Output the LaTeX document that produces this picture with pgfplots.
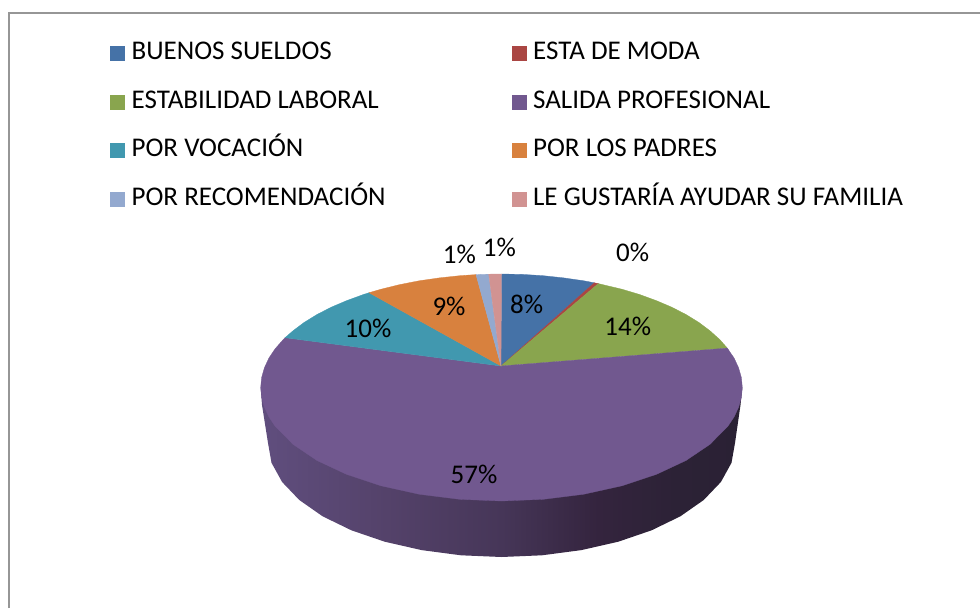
\documentclass[border=0pt]{standalone}
\usepackage{pgfplots}
\pgfplotsset{compat=1.18}
\usepackage{fontspec}
\setmainfont{Carlito}
\definecolor{cblue}{RGB}{69,114,167}
\definecolor{cred}{RGB}{170,70,67}
\definecolor{cgreen}{RGB}{137,165,78}
\definecolor{cpurple}{RGB}{113,88,143}
\definecolor{cteal}{RGB}{65,152,175}
\definecolor{corange}{RGB}{216,129,62}
\definecolor{clight}{RGB}{147,169,207}
\definecolor{cpink}{RGB}{209,147,146}
\definecolor{cframe}{RGB}{150,150,150}
\definecolor{sa}{RGB}{96,78,126}
\definecolor{sb}{RGB}{84,66,106}
\definecolor{sc}{RGB}{70,54,88}
\definecolor{sd}{RGB}{52,36,62}
\definecolor{se}{RGB}{44,34,54}
\definecolor{sf}{RGB}{42,33,52}
\pgfdeclarehorizontalshading{sidepurple}{100bp}{
 color(0bp)=(sa);
 color(25bp)=(sa);
 color(38bp)=(sb);
 color(50bp)=(sc);
 color(60bp)=(sd);
 color(68bp)=(se);
 color(75bp)=(sf);
 color(100bp)=(sf)}
\newlength{\colw}\setlength{\colw}{380pt}
\begin{document}
\begin{tikzpicture}
\path[use as bounding box] (0,0) rectangle (980pt,608pt);
\begin{axis}[
  width=980pt,height=608pt,scale only axis,
  xmin=0,xmax=980,ymin=0,ymax=608,y dir=reverse,
  hide axis,
  legend columns=2,
  legend cell align=left,
  legend image code/.code={\path[#1,draw=none] (0pt,-7.5pt) rectangle (15pt,7.5pt);},
  legend style={draw=none,fill=none,inner sep=0pt,at={(0.1122,0.930)},anchor=north west,
    font=\fontsize{27}{27}\selectfont,row sep=26.6pt,
    nodes={inner sep=0pt,outer sep=0pt,text height=17pt,text depth=5pt},
    /tikz/every odd column/.append style={column sep=6.5pt}},
]
% frame
\addplot[forget plot,draw=cframe,line width=2pt] coordinates {(8.5,608) (8.5,12.5) (980,12.5)};
% side wall of the pie
\addplot[forget plot,draw=none,shading=sidepurple] coordinates {
 (260.7,387.5) (262,405) (268,443) (271.5,462.8) (282.1,482) (299.3,500) (322.6,516.3) (351.4,530.3)
 (384.7,541.7) (421.6,550.1) (461,555.3) (501.5,557) (542,555.3) (581.4,550.1) (618.3,541.7)
 (651.6,530.3) (680.4,516.3) (703.7,500) (720.9,482) (731.5,462.8) (735,443) (740.5,405) (742.3,387.5)} -- cycle;
% slices
\addplot[fill=cblue,draw=cblue,line width=0.3pt] coordinates {
 (501,366) (501.5,274) (522.5,274.4) (543.3,275.7) (563.8,277.9) (583.9,280.8) (594.3,282.8)} -- cycle;
\addlegendentry{\makebox[\colw][l]{BUENOS SUELDOS}}
\addplot[fill=cred,draw=cred,line width=0.3pt] coordinates {
 (501,366) (594.3,282.8) (598.3,283.6)} -- cycle;
\addlegendentry{ESTA DE MODA}
\addplot[fill=cgreen,draw=cgreen,line width=0.3pt] coordinates {
 (501,366) (598.3,283.6) (621.9,289.2) (639.6,294.5) (656.3,300.6) (671.8,307.2) (686,314.5)
 (698.8,322.4) (710,330.8) (719.7,339.5) (727.3,348.1)} -- cycle;
\addlegendentry{\makebox[\colw][l]{ESTABILIDAD LABORAL}}
\addplot[fill=cpurple,draw=cpurple,line width=0.3pt] coordinates {
 (501,366) (727.3,348.1) (734.1,358.1) (738.6,367.8) (741.4,377.6) (742.3,387.5) (741.4,397.4)
 (738.6,407.2) (734.1,416.9) (727.8,426.3) (710,444.3) (686,460.5) (656.3,474.4) (621.9,485.8)
 (583.9,494.2) (543.3,499.3) (501.5,501) (459.7,499.3) (419.1,494.2) (381.1,485.8) (346.7,474.4)
 (317,460.5) (293,444.3) (275.2,426.3) (268.9,416.9) (264.4,407.2) (261.6,397.4) (260.7,387.5)
 (261.6,377.6) (264.4,367.8) (268.9,358.1) (275.2,348.7) (283.3,339.5) (285,337.7)} -- cycle;
\addlegendentry{SALIDA PROFESIONAL}
\addplot[fill=cteal,draw=cteal,line width=0.3pt] coordinates {
 (501,366) (285,337.7) (293,330.8) (304.2,322.4) (317,314.5) (331.2,307.2) (346.7,300.6) (363.4,294.5) (369,292.7)} -- cycle;
\addlegendentry{\makebox[\colw][l]{POR VOCACIÓN}}
\addplot[fill=corange,draw=corange,line width=0.3pt] coordinates {
 (501,366) (369,292.7) (381.1,289.2) (399.7,284.6) (419.1,280.8) (439.2,277.9) (459.7,275.7) (476,274.6)} -- cycle;
\addlegendentry{POR LOS PADRES}
\addplot[fill=clight,draw=clight,line width=0.3pt] coordinates {
 (501,366) (476,274.6) (482,274.3) (488.7,274.2)} -- cycle;
\addlegendentry{\makebox[\colw][l]{POR RECOMENDACIÓN}}
\addplot[fill=cpink,draw=cpink,line width=0.3pt] coordinates {
 (501,366) (488.7,274.2) (495,274) (501.5,274)} -- cycle;
\addlegendentry{LE GUSTARÍA AYUDAR SU FAMILIA}
% percentage labels
\begin{scope}[every node/.style={font=\fontsize{27}{27}\selectfont,inner sep=0pt,text=black}]
\node at (axis cs:526.7,304) {8\%};
\node at (axis cs:632.7,252) {0\%};
\node at (axis cs:627.7,326) {14\%};
\node at (axis cs:474,474) {57\%};
\node at (axis cs:368,328) {10\%};
\node at (axis cs:449,306) {9\%};
\node at (axis cs:459.3,254) {1\%};
\node at (axis cs:499.3,247.5) {1\%};
\end{scope}
\end{axis}
\end{tikzpicture}
\end{document}
